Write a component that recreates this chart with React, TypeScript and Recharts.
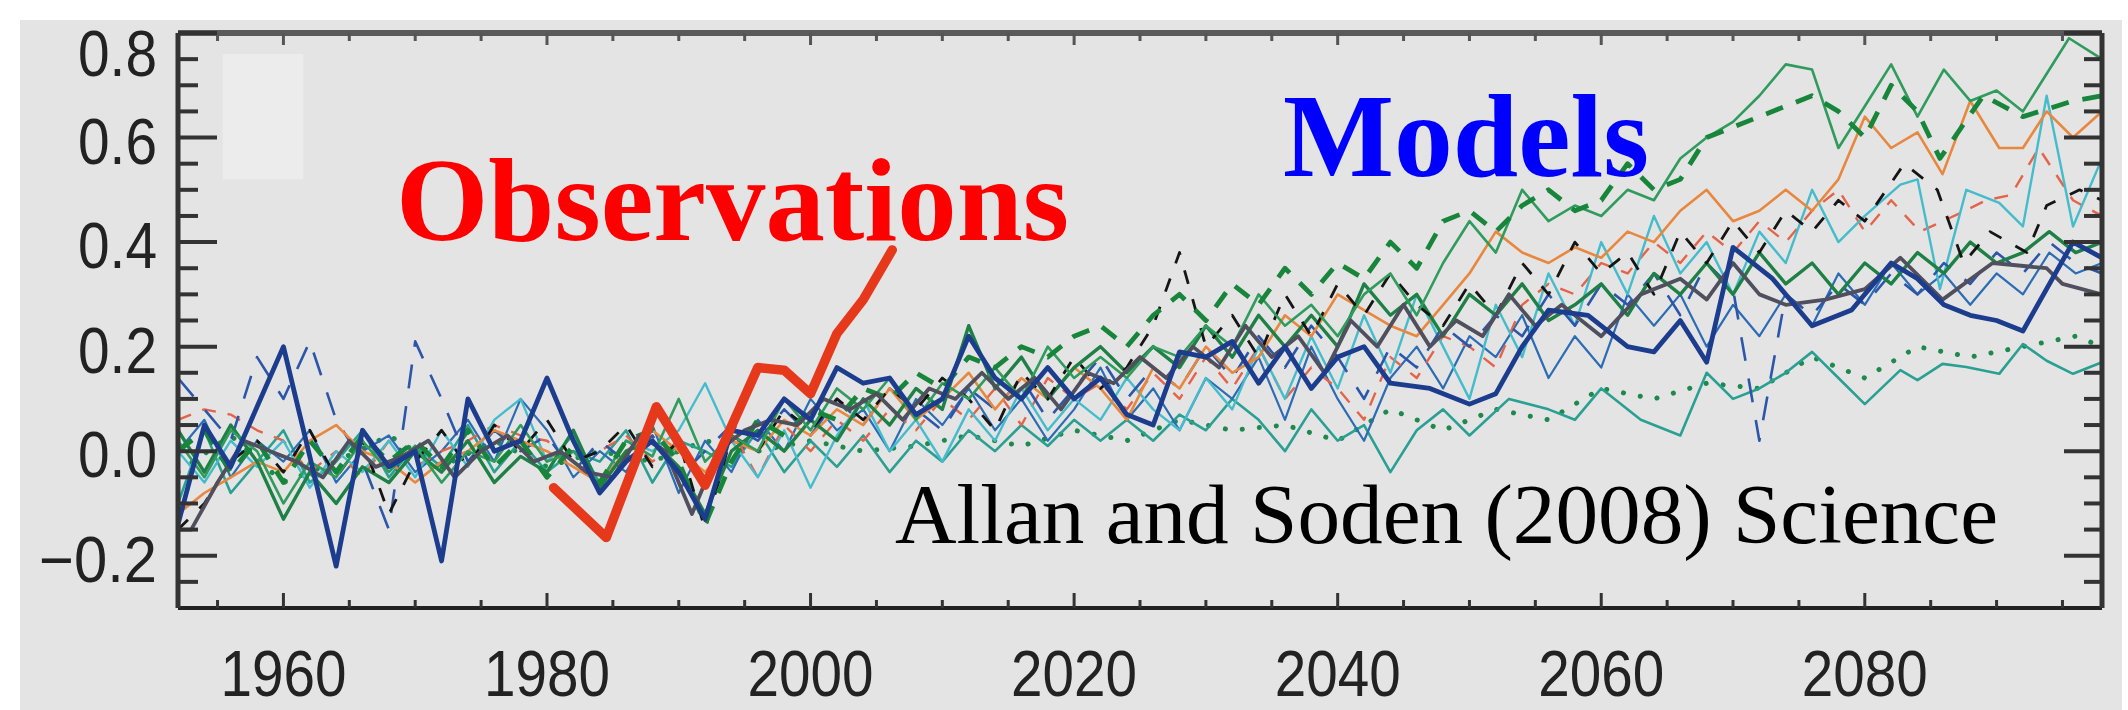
import { LineChart, Line, XAxis, YAxis, ReferenceArea } from "recharts";

type Pt = [number, number];

// observed record (thick red)
const observations: Pt[] = [
  [1980.5, -0.07], [1984.5, -0.165], [1988.3, 0.085], [1992, -0.065], [1996, 0.16],
  [1998, 0.155], [2000, 0.11], [2002, 0.225], [2004, 0.29], [2006.2, 0.385],
];

// model runs
const navyThick: Pt[] = [
  [1952, -0.14], [1954, 0.05], [1956, -0.03], [1960, 0.2], [1964, -0.22], [1966, 0.04], [1968, -0.03],
  [1970, 0.0], [1972, -0.21], [1974, 0.1], [1976, 0.0], [1978, 0.02], [1980, 0.14], [1982, 0.02],
  [1984, -0.08], [1986, -0.02], [1988, 0.02], [1990, -0.04], [1992, -0.13], [1994, 0.04], [1996, 0.03],
  [1998, 0.1], [2000, 0.06], [2002, 0.16], [2004, 0.13], [2006, 0.14], [2008, 0.07], [2010, 0.1],
  [2012, 0.22], [2014, 0.14], [2016, 0.1], [2018, 0.16], [2020, 0.1], [2022, 0.14], [2024, 0.07],
  [2026, 0.05], [2028, 0.19], [2030, 0.18], [2032, 0.21], [2034, 0.13], [2036, 0.2], [2038, 0.12],
  [2040, 0.18], [2042, 0.2], [2044, 0.13], [2047, 0.12], [2050, 0.09], [2052, 0.11], [2054, 0.2],
  [2056, 0.27], [2059, 0.26], [2062, 0.2], [2064, 0.19], [2066, 0.25], [2068, 0.17], [2070, 0.39],
  [2073, 0.33], [2076, 0.24], [2079, 0.27], [2082, 0.36], [2084, 0.33], [2086, 0.28], [2088, 0.26],
  [2090, 0.25], [2092, 0.23], [2095.8, 0.4], [2098, 0.37],
];

const grayThick: Pt[] = [
  [1952, -0.15], [1953, -0.15], [1955, -0.06], [1957, 0.02], [1959, 0.0], [1961, -0.02], [1963, -0.05],
  [1965, 0.02], [1967, -0.03], [1969, -0.01], [1971, 0.02], [1973, -0.05], [1975, 0.0], [1977, 0.03],
  [1979, -0.02], [1981, 0.0], [1983, -0.04], [1985, -0.05], [1987, 0.03], [1989, 0.0], [1991, -0.12],
  [1993, 0.0], [1995, 0.04], [1997, 0.06], [1999, 0.05], [2001, 0.1], [2003, 0.08], [2005, 0.11],
  [2007, 0.06], [2009, 0.12], [2011, 0.1], [2013, 0.15], [2015, 0.1], [2017, 0.14], [2019, 0.08],
  [2021, 0.15], [2023, 0.13], [2025, 0.18], [2027, 0.14], [2029, 0.2], [2031, 0.16], [2033, 0.24],
  [2035, 0.18], [2037, 0.22], [2039, 0.15], [2041, 0.25], [2043, 0.2], [2045, 0.28], [2047, 0.2],
  [2049, 0.25], [2051, 0.22], [2053, 0.3], [2055, 0.24], [2057, 0.28], [2060, 0.22], [2063, 0.3],
  [2066, 0.33], [2068, 0.29], [2070, 0.36], [2072, 0.3], [2074, 0.28], [2077, 0.29], [2080, 0.31],
  [2082.7, 0.37], [2085.9, 0.29], [2089.7, 0.36], [2093.8, 0.35], [2095, 0.32], [2098, 0.3],
];

const greenTop: Pt[] = [
  [1952, 0.02], [1954, -0.05], [1956, 0.04], [1958, 0.0], [1960, -0.1], [1962, -0.02], [1964, -0.05],
  [1966, 0.02], [1968, -0.04], [1970, 0.01], [1972, -0.06], [1974, 0.0], [1976, -0.02], [1978, 0.05],
  [1980, -0.02], [1982, 0.0], [1984, -0.06], [1986, 0.02], [1988, -0.01], [1990, 0.1], [1992, -0.02],
  [1994, 0.03], [1996, 0.0], [1998, 0.1], [2000, 0.04], [2002, 0.12], [2004, 0.08], [2006, 0.14],
  [2008, 0.06], [2010, 0.13], [2012, 0.1], [2014, 0.16], [2016, 0.1], [2018, 0.2], [2020, 0.14],
  [2022, 0.18], [2024, 0.14], [2026, 0.2], [2028, 0.18], [2030, 0.24], [2032, 0.2], [2034, 0.3],
  [2036, 0.24], [2038, 0.28], [2040, 0.22], [2042, 0.3], [2044, 0.34], [2046, 0.26], [2048, 0.36],
  [2050, 0.44], [2052, 0.38], [2054, 0.5], [2056, 0.44], [2058, 0.47], [2060, 0.45], [2062, 0.5],
  [2064, 0.48], [2066, 0.56], [2068, 0.6], [2070, 0.63], [2072, 0.68], [2074, 0.74], [2076, 0.73],
  [2078, 0.58], [2080, 0.66], [2082, 0.74], [2084, 0.64], [2086, 0.73], [2088, 0.67], [2090, 0.69],
  [2092, 0.65], [2095.5, 0.79], [2098, 0.75],
];

const greenDashed: Pt[] = [
  [1952, 0.0], [1954, 0.04], [1956, -0.04], [1958, 0.02], [1960, -0.06], [1962, 0.02], [1964, -0.04],
  [1966, 0.03], [1968, -0.02], [1970, 0.02], [1972, -0.03], [1974, 0.04], [1976, -0.03], [1978, 0.02],
  [1980, -0.05], [1982, 0.01], [1984, -0.06], [1986, 0.02], [1988, 0.04], [1990, -0.02], [1992, -0.14],
  [1994, -0.02], [1996, 0.06], [1998, 0.03], [2000, 0.08], [2002, 0.06], [2004, 0.12], [2006, 0.1],
  [2008, 0.15], [2010, 0.12], [2012, 0.18], [2014, 0.16], [2016, 0.2], [2018, 0.18], [2020, 0.22],
  [2022, 0.24], [2024, 0.2], [2026, 0.26], [2028, 0.3], [2030, 0.25], [2032, 0.32], [2034, 0.28],
  [2036, 0.35], [2038, 0.3], [2040, 0.36], [2042, 0.33], [2044, 0.4], [2046, 0.35], [2048, 0.44],
  [2050, 0.46], [2052, 0.42], [2054, 0.47], [2056, 0.5], [2058, 0.46], [2060, 0.48], [2062, 0.55],
  [2064, 0.5], [2066, 0.52], [2068, 0.6], [2070, 0.62], [2072, 0.64], [2074, 0.66], [2076, 0.68],
  [2078, 0.65], [2080, 0.6], [2082, 0.7], [2084, 0.65], [2085.7, 0.56], [2089, 0.68], [2092, 0.64],
  [2095.8, 0.67], [2098, 0.68],
];

const orangeSolid: Pt[] = [
  [1952, -0.12], [1954, -0.08], [1956, -0.05], [1958, -0.02], [1960, -0.04], [1962, 0.02], [1964, 0.05],
  [1966, 0.0], [1968, -0.02], [1970, -0.06], [1972, -0.02], [1974, 0.0], [1976, 0.04], [1978, 0.02],
  [1980, 0.0], [1982, -0.03], [1984, -0.06], [1986, 0.0], [1988, 0.04], [1990, 0.0], [1992, -0.04],
  [1994, 0.02], [1996, 0.0], [1998, 0.06], [2000, 0.03], [2002, 0.08], [2004, 0.05], [2006, 0.12],
  [2008, 0.06], [2010, 0.1], [2012, 0.15], [2014, 0.08], [2016, 0.14], [2018, 0.1], [2020, 0.16],
  [2022, 0.12], [2024, 0.06], [2026, 0.16], [2028, 0.12], [2030, 0.2], [2032, 0.15], [2034, 0.18],
  [2036, 0.26], [2038, 0.22], [2040, 0.3], [2042, 0.27], [2044, 0.24], [2046, 0.22], [2048, 0.28],
  [2050, 0.34], [2052, 0.42], [2054, 0.38], [2056, 0.36], [2058, 0.39], [2060, 0.37], [2062, 0.42],
  [2064, 0.4], [2066, 0.46], [2068, 0.5], [2070, 0.44], [2072, 0.46], [2074, 0.5], [2076, 0.46],
  [2078, 0.52], [2080, 0.64], [2082, 0.58], [2084, 0.61], [2085.9, 0.53], [2088, 0.67], [2090.2, 0.58],
  [2092, 0.58], [2093.8, 0.65], [2095.8, 0.6], [2098, 0.65],
];

const orangeDashed: Pt[] = [
  [1952, 0.06], [1954, 0.08], [1956, 0.07], [1958, 0.04], [1960, 0.02], [1962, -0.04], [1964, 0.0],
  [1966, -0.05], [1968, 0.02], [1970, -0.03], [1972, 0.0], [1974, 0.02], [1976, 0.05], [1978, 0.03],
  [1980, 0.02], [1982, -0.02], [1984, 0.0], [1986, 0.03], [1988, -0.02], [1990, 0.02], [1992, -0.05],
  [1994, 0.04], [1996, -0.05], [1998, 0.05], [2000, 0.0], [2002, 0.06], [2004, 0.02], [2006, 0.08],
  [2008, 0.04], [2010, 0.1], [2012, 0.06], [2014, 0.12], [2016, 0.05], [2018, 0.14], [2020, 0.1],
  [2022, 0.13], [2024, 0.08], [2026, 0.15], [2028, 0.1], [2030, 0.18], [2032, 0.12], [2034, 0.2],
  [2036, 0.1], [2038, 0.16], [2040, 0.12], [2042, 0.06], [2044, 0.18], [2046, 0.14], [2048, 0.22],
  [2050, 0.2], [2052, 0.16], [2054, 0.28], [2056, 0.32], [2058, 0.3], [2060, 0.36], [2062, 0.34],
  [2064, 0.4], [2066, 0.36], [2068, 0.42], [2070, 0.38], [2072, 0.44], [2074, 0.4], [2076, 0.46],
  [2078, 0.5], [2080, 0.42], [2082, 0.48], [2084.2, 0.42], [2087.2, 0.455], [2089.2, 0.48],
  [2091.1, 0.49], [2093.2, 0.58], [2095.8, 0.48], [2098, 0.45],
];

const cyanSolid: Pt[] = [
  [1952, 0.0], [1954, -0.06], [1956, 0.02], [1958, -0.03], [1960, 0.02], [1962, -0.07], [1964, 0.0],
  [1966, -0.04], [1968, 0.02], [1970, -0.05], [1972, 0.04], [1974, -0.03], [1976, 0.06], [1978, 0.1],
  [1980, -0.02], [1982, 0.03], [1984, -0.06], [1986, 0.02], [1988, 0.0], [1990, 0.04], [1992, 0.13],
  [1994, 0.02], [1996, -0.05], [1998, 0.04], [2000, -0.07], [2002, 0.03], [2004, 0.1], [2006, 0.0],
  [2008, 0.06], [2010, -0.02], [2012, 0.08], [2014, 0.02], [2016, 0.12], [2018, 0.04], [2020, 0.1],
  [2022, 0.06], [2024, 0.14], [2026, 0.08], [2028, 0.04], [2030, 0.14], [2032, 0.08], [2034, 0.2],
  [2036, 0.1], [2038, 0.22], [2040, 0.12], [2042, 0.26], [2044, 0.15], [2046, 0.3], [2048, 0.2],
  [2050, 0.1], [2052, 0.28], [2054, 0.18], [2056, 0.34], [2058, 0.24], [2060, 0.4], [2062, 0.3],
  [2064, 0.45], [2066, 0.34], [2068, 0.4], [2070, 0.3], [2072, 0.42], [2074, 0.36], [2076, 0.5],
  [2078, 0.4], [2080, 0.45], [2082.7, 0.51], [2084, 0.52], [2085.7, 0.31], [2087.7, 0.5],
  [2090.2, 0.475], [2092, 0.43], [2093.8, 0.68], [2095.8, 0.43], [2098, 0.56],
];

const tealSolid: Pt[] = [
  [1952, -0.1], [1954, 0.04], [1956, -0.08], [1958, -0.02], [1960, 0.04], [1962, -0.06], [1964, -0.02],
  [1966, 0.04], [1968, -0.05], [1970, 0.01], [1972, -0.03], [1974, 0.05], [1976, -0.04], [1978, 0.02],
  [1980, -0.04], [1982, 0.0], [1984, -0.02], [1986, 0.04], [1988, -0.06], [1990, 0.02], [1992, 0.0],
  [1994, -0.03], [1996, 0.04], [1998, -0.04], [2000, 0.02], [2002, -0.03], [2004, 0.03], [2006, -0.04],
  [2008, 0.02], [2010, -0.02], [2012, 0.04], [2014, 0.0], [2016, 0.05], [2018, 0.01], [2020, 0.06],
  [2022, 0.02], [2024, 0.06], [2026, 0.02], [2028, 0.07], [2030, 0.04], [2032, 0.1], [2034, 0.06],
  [2036, 0.0], [2038, 0.08], [2040, 0.02], [2042, 0.05], [2044, -0.04], [2046, 0.04], [2048, 0.08],
  [2050, 0.03], [2053, 0.1], [2056, 0.08], [2058, 0.06], [2060, 0.12], [2063, 0.06], [2066, 0.03],
  [2068, 0.15], [2070, 0.1], [2072, 0.12], [2074, 0.15], [2076, 0.19], [2078, 0.14], [2080, 0.09],
  [2082.7, 0.155], [2084, 0.136], [2085.9, 0.167], [2087.7, 0.161], [2090.2, 0.148], [2092, 0.205],
  [2093.8, 0.173], [2095.8, 0.148], [2098, 0.17],
];

const greenDotted: Pt[] = [
  [1952, -0.04], [1956, 0.03], [1960, -0.06], [1964, -0.02], [1968, 0.03], [1972, -0.03], [1976, 0.02],
  [1980, -0.03], [1984, 0.0], [1988, -0.02], [1992, 0.02], [1996, 0.0], [2000, 0.02], [2004, 0.0],
  [2008, 0.01], [2012, 0.03], [2016, 0.01], [2020, 0.04], [2024, 0.02], [2028, 0.06], [2032, 0.04],
  [2036, 0.05], [2040, 0.02], [2044, 0.08], [2048, 0.04], [2052, 0.08], [2056, 0.06], [2060, 0.12],
  [2064, 0.1], [2068, 0.13], [2072, 0.12], [2076, 0.18], [2080, 0.14], [2084, 0.2], [2088, 0.18],
  [2092, 0.2], [2096, 0.22], [2098, 0.2],
];

const blackDashed: Pt[] = [
  [1952, -0.15], [1954, -0.1], [1956, -0.02], [1958, 0.02], [1960, -0.04], [1962, 0.04], [1964, -0.05],
  [1966, 0.02], [1968, -0.12], [1970, -0.02], [1972, 0.04], [1974, -0.03], [1976, 0.05], [1978, 0.0],
  [1980, 0.06], [1982, -0.02], [1984, 0.0], [1986, 0.05], [1988, -0.03], [1990, 0.02], [1992, -0.15],
  [1994, 0.03], [1996, 0.0], [1998, 0.08], [2000, 0.04], [2002, 0.1], [2004, 0.06], [2006, 0.12],
  [2008, 0.08], [2010, 0.14], [2012, 0.1], [2014, 0.04], [2016, 0.15], [2018, 0.1], [2020, 0.18],
  [2022, 0.12], [2024, 0.16], [2026, 0.24], [2028, 0.38], [2030, 0.2], [2032, 0.26], [2034, 0.18],
  [2036, 0.3], [2038, 0.22], [2040, 0.32], [2042, 0.26], [2044, 0.34], [2046, 0.28], [2048, 0.24],
  [2050, 0.32], [2052, 0.26], [2054, 0.36], [2056, 0.3], [2058, 0.4], [2060, 0.34], [2062, 0.38],
  [2064, 0.3], [2066, 0.42], [2068, 0.36], [2070, 0.44], [2072, 0.38], [2074, 0.46], [2076, 0.42],
  [2078, 0.48], [2080, 0.44], [2083, 0.55], [2085.5, 0.5], [2087.5, 0.36], [2089.5, 0.42],
  [2092.3, 0.38], [2093.8, 0.47], [2096.3, 0.5], [2098, 0.48],
];

const blueDashed: Pt[] = [
  [1952, 0.14], [1954, 0.08], [1956, 0.02], [1958, 0.18], [1960, 0.1], [1962, 0.21], [1964, 0.06],
  [1966, -0.02], [1968, -0.15], [1970, 0.21], [1972, 0.1], [1974, -0.02], [1976, 0.04], [1978, 0.0],
  [1980, 0.03], [1982, -0.04], [1984, 0.02], [1986, -0.02], [1988, 0.03], [1990, -0.05], [1992, 0.0],
  [1994, 0.05], [1996, 0.02], [1998, 0.08], [2000, 0.03], [2002, 0.1], [2004, 0.05], [2006, 0.12],
  [2008, 0.08], [2010, 0.04], [2012, 0.12], [2014, 0.08], [2016, 0.14], [2018, 0.06], [2020, 0.12],
  [2022, 0.18], [2024, 0.1], [2026, 0.16], [2028, 0.12], [2030, 0.2], [2032, 0.14], [2034, 0.22],
  [2036, 0.16], [2038, 0.24], [2040, 0.18], [2042, 0.1], [2044, 0.2], [2046, 0.16], [2048, 0.24],
  [2050, 0.2], [2052, 0.26], [2054, 0.22], [2056, 0.3], [2058, 0.24], [2060, 0.32], [2062, 0.28],
  [2064, 0.34], [2066, 0.26], [2068, 0.36], [2070, 0.31], [2072, 0.02], [2074, 0.3], [2076, 0.26],
  [2078, 0.32], [2080, 0.28], [2082, 0.34], [2084, 0.3], [2086, 0.36], [2088, 0.32], [2090, 0.38],
  [2092, 0.34], [2094, 0.4], [2096, 0.36], [2098, 0.34],
];

const blueThin: Pt[] = [
  [1952, 0.0], [1954, 0.06], [1956, -0.05], [1958, 0.02], [1960, -0.02], [1962, 0.04], [1964, -0.06],
  [1966, 0.0], [1968, 0.03], [1970, -0.04], [1972, 0.0], [1974, 0.06], [1976, -0.02], [1978, 0.1],
  [1980, 0.04], [1982, -0.05], [1984, 0.0], [1986, -0.04], [1988, 0.05], [1990, -0.08], [1992, 0.02],
  [1994, -0.04], [1996, 0.06], [1998, 0.0], [2000, 0.1], [2002, 0.04], [2004, 0.08], [2006, 0.0],
  [2008, 0.1], [2010, 0.05], [2012, 0.12], [2014, 0.04], [2016, 0.1], [2018, 0.02], [2020, 0.08],
  [2022, 0.16], [2024, 0.06], [2026, 0.12], [2028, 0.04], [2030, 0.14], [2032, 0.1], [2034, 0.18],
  [2036, 0.06], [2038, 0.2], [2040, 0.1], [2042, 0.02], [2044, 0.14], [2046, 0.2], [2048, 0.12],
  [2050, 0.22], [2052, 0.18], [2054, 0.26], [2056, 0.14], [2058, 0.22], [2060, 0.16], [2062, 0.3],
  [2064, 0.24], [2066, 0.3], [2068, 0.2], [2070, 0.28], [2072, 0.22], [2074, 0.3], [2076, 0.24],
  [2078, 0.34], [2080, 0.28], [2082, 0.36], [2084, 0.3], [2086, 0.34], [2088, 0.28], [2090, 0.34],
  [2092, 0.3], [2094, 0.38], [2096, 0.34], [2098, 0.36],
];

const darkGreen: Pt[] = [
  [1952, 0.04], [1954, -0.04], [1956, 0.05], [1958, -0.02], [1960, -0.13], [1962, -0.04], [1964, -0.1],
  [1966, -0.03], [1968, -0.06], [1970, 0.0], [1972, -0.04], [1974, 0.02], [1976, -0.06], [1978, -0.01],
  [1980, -0.04], [1982, 0.04], [1984, -0.07], [1986, 0.0], [1988, 0.02], [1990, -0.03], [1992, -0.12],
  [1994, 0.0], [1996, 0.04], [1998, 0.0], [2000, 0.06], [2002, 0.02], [2004, 0.1], [2006, 0.05],
  [2008, 0.12], [2010, 0.08], [2012, 0.24], [2014, 0.12], [2016, 0.18], [2018, 0.1], [2020, 0.16],
  [2022, 0.2], [2024, 0.15], [2026, 0.2], [2028, 0.16], [2030, 0.24], [2032, 0.18], [2034, 0.26],
  [2036, 0.2], [2038, 0.26], [2040, 0.2], [2042, 0.32], [2044, 0.26], [2046, 0.3], [2048, 0.22],
  [2050, 0.3], [2052, 0.26], [2054, 0.32], [2056, 0.25], [2058, 0.28], [2060, 0.32], [2062, 0.26],
  [2064, 0.34], [2066, 0.3], [2068, 0.36], [2070, 0.3], [2072, 0.38], [2074, 0.32], [2076, 0.36],
  [2078, 0.3], [2080, 0.36], [2082, 0.32], [2084, 0.38], [2086, 0.34], [2088, 0.4], [2090, 0.36],
  [2092, 0.38], [2094, 0.42], [2096, 0.38], [2098, 0.4],
];

// axis ticks
const xTicks = [1955, 1960, 1965, 1970, 1975, 1980, 1985, 1990, 1995, 2000, 2005, 2010, 2015, 2020,
  2025, 2030, 2035, 2040, 2045, 2050, 2055, 2060, 2065, 2070, 2075, 2080, 2085, 2090, 2095];
const xLabels = [1960, 1980, 2000, 2020, 2040, 2060, 2080];
const yTicks = [-0.25, -0.2, -0.15, -0.1, -0.05, 0, 0.05, 0.1, 0.15, 0.2, 0.25, 0.3, 0.35, 0.4,
  0.45, 0.5, 0.55, 0.6, 0.65, 0.7, 0.75, 0.8];
const yLabels = [-0.2, 0, 0.2, 0.4, 0.6, 0.8];

const rows = (pts: Pt[]) => pts.map(([year, v]) => ({ year, v }));
const has = (list: number[], v: number) => list.some((m) => Math.abs(m - v) < 1e-6);
const fmtY = (v: number) => (v < -1e-9 ? "\u2212" : "") + Math.abs(v).toFixed(1);

const AXIS = "#333";
const LABEL_FONT = "'Liberation Sans', Arial, sans-serif";

const models = [
  { id: "greenDotted", pts: greenDotted, stroke: "#1d8a4c", w: 5, dash: "0.1 17", cap: "round" },
  { id: "tealSolid", pts: tealSolid, stroke: "#2aa093", w: 2.6 },
  { id: "blueThin", pts: blueThin, stroke: "#2b6cb4", w: 2.2 },
  { id: "orangeDashed", pts: orangeDashed, stroke: "#e4644a", w: 2.4, dash: "14 12" },
  { id: "cyanSolid", pts: cyanSolid, stroke: "#45bccb", w: 2.4 },
  { id: "blueDashed", pts: blueDashed, stroke: "#2c56aa", w: 2.6, dash: "24 18" },
  { id: "orangeSolid", pts: orangeSolid, stroke: "#e8873e", w: 2.6 },
  { id: "darkGreen", pts: darkGreen, stroke: "#1e8045", w: 3.4 },
  { id: "blackDashed", pts: blackDashed, stroke: "#151515", w: 2.8, dash: "14 16" },
  { id: "greenTop", pts: greenTop, stroke: "#2f9b5c", w: 2.6 },
  { id: "greenDashed", pts: greenDashed, stroke: "#17853a", w: 4.8, dash: "18 14" },
  { id: "grayThick", pts: grayThick, stroke: "#4f4f5e", w: 3.8 },
  { id: "navyThick", pts: navyThick, stroke: "#1c3c8e", w: 4.8 },
];

function LeftTick({ x, y, payload }: any) {
  const v = payload.value as number;
  const major = has(yLabels, v);
  const wide = v < -1e-9;
  const w = wide ? 118 : 79;
  const base = Math.abs(v - 0.8) < 1e-6 ? y + 43 : y + 26;
  return (
    <g>
      <line x1={x} x2={x + (major ? 39 : 20)} y1={y} y2={y} stroke={AXIS} strokeWidth={4} />
      {major && (
        <text x={x - 21 - w} y={base} fontSize={64} fontFamily={LABEL_FONT} fill="#222"
          textLength={w} lengthAdjust="spacingAndGlyphs">{fmtY(v)}</text>
      )}
    </g>
  );
}

function RightTick({ x, y, payload }: any) {
  const major = has(yLabels, payload.value);
  return <line x1={x} x2={x - (major ? 38 : 18)} y1={y} y2={y} stroke={AXIS} strokeWidth={4} />;
}

function BottomTick({ x, y, payload }: any) {
  const v = payload.value as number;
  const major = has(xLabels, v);
  return (
    <g>
      <line x1={x} x2={x} y1={y} y2={y - (major ? 15 : 8)} stroke={AXIS} strokeWidth={3} />
      {major && (
        <text x={x - 63} y={y + 88} fontSize={65} fontFamily={LABEL_FONT} fill="#222"
          textLength={126} lengthAdjust="spacingAndGlyphs">{String(v)}</text>
      )}
    </g>
  );
}

function TopTick({ x, y, payload }: any) {
  const major = has(xLabels, payload.value);
  return <line x1={x} x2={x} y1={y} y2={y + (major ? 12 : 8)} stroke="#555" strokeWidth={3} />;
}

export default function App() {
  return (
    <div style={{ position: "absolute", left: 0, top: 0, width: 2128, height: 710, background: "#fff" }}>
      <div style={{ position: "absolute", left: 20, top: 20, width: 2102, height: 690, background: "#e4e4e4" }} />
      <div style={{ position: "absolute", left: 0, top: 0 }}>
        <LineChart width={2128} height={710} margin={{ top: 32, right: 25, left: 28, bottom: 22 }}>
          <XAxis xAxisId="b" dataKey="year" type="number" domain={[1952, 2098]} allowDataOverflow
            ticks={xTicks} interval={0} tickSize={0} tickMargin={0} height={80}
            tick={<BottomTick />} axisLine={{ stroke: "#222", strokeWidth: 4 }} />
          <XAxis xAxisId="t" orientation="top" dataKey="year" type="number" domain={[1952, 2098]}
            allowDataOverflow ticks={xTicks} interval={0} tickSize={0} tickMargin={0} height={1}
            tick={<TopTick />} axisLine={{ stroke: "#5a5a5a", strokeWidth: 6 }} />
          <YAxis yAxisId="l" type="number" domain={[-0.3, 0.8]} allowDataOverflow ticks={yTicks}
            interval={0} tickSize={0} tickMargin={0} width={150} tick={<LeftTick />}
            axisLine={{ stroke: AXIS, strokeWidth: 5 }} />
          <YAxis yAxisId="r" orientation="right" type="number" domain={[-0.3, 0.8]} allowDataOverflow
            ticks={yTicks} interval={0} tickSize={0} tickMargin={0} width={1} tick={<RightTick />}
            axisLine={{ stroke: AXIS, strokeWidth: 5 }} />
          <ReferenceArea xAxisId="b" yAxisId="l" x1={1955.4} x2={1961.5} y1={0.52} y2={0.76}
            fill="#ececec" fillOpacity={1} stroke="none" />
          {models.map((m) => (
            <Line key={m.id} xAxisId="b" yAxisId="l" data={rows(m.pts)} dataKey="v" type="linear"
              stroke={m.stroke} strokeWidth={m.w} strokeDasharray={m.dash}
              strokeLinecap={(m.cap as any) ?? "butt"} strokeLinejoin="round"
              dot={false} activeDot={false} isAnimationActive={false} />
          ))}
          <Line xAxisId="b" yAxisId="l" data={rows(observations)} dataKey="v" type="linear"
            stroke="#e6391c" strokeWidth={9.5} strokeLinejoin="round" strokeLinecap="round"
            dot={false} activeDot={false} isAnimationActive={false} />
        </LineChart>
      </div>
      <svg width={2128} height={710} style={{ position: "absolute", left: 0, top: 0, pointerEvents: "none" }}>
        <text x={396} y={240} fontFamily="'Liberation Serif', 'Times New Roman', serif" fontWeight="bold"
          fontSize={119} fill="#ff0000" textLength={673} lengthAdjust="spacingAndGlyphs">Observations</text>
        <text x={1283} y={176} fontFamily="'Liberation Serif', 'Times New Roman', serif" fontWeight="bold"
          fontSize={119} fill="#0000ff" textLength={366} lengthAdjust="spacingAndGlyphs">Models</text>
        <text x={895} y={543} fontFamily="'Liberation Serif', 'Times New Roman', serif"
          fontSize={85} fill="#000" textLength={1103} lengthAdjust="spacingAndGlyphs">Allan and Soden (2008) Science</text>
      </svg>
    </div>
  );
}
